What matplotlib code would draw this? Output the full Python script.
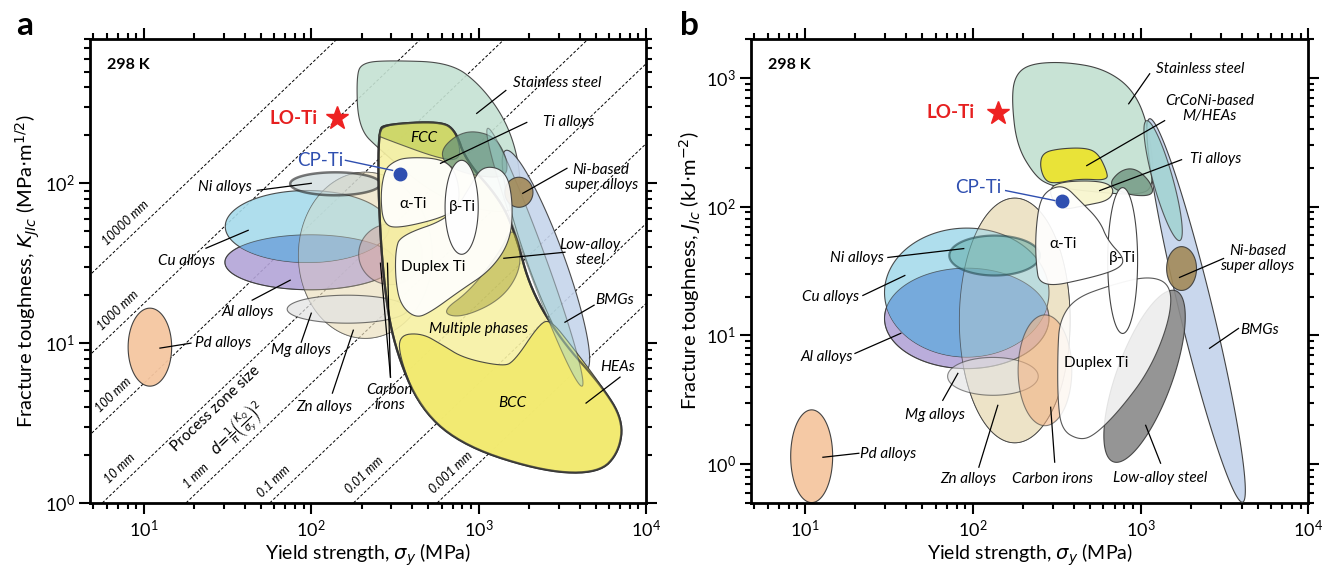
import numpy as np
import matplotlib
matplotlib.use('Agg')
import matplotlib.pyplot as plt

plt.rcParams['font.family'] = ['Lato', 'DejaVu Sans']
plt.rcParams['mathtext.fontset'] = 'dejavusans'

# all outlines in decades: (log10 sigma_y [MPa], log10 toughness)

# ---------------- panel a : K_JIc ----------------
# ellipses: centre x, centre y, half width, half height (decades)
pd_a = (1.036, 0.975, 0.13, 0.244)
cu_a = (1.976, 1.73, 0.49, 0.225)
al_a = (1.994, 1.506, 0.51, 0.172)
ni_a = (2.144, 1.997, 0.27, 0.072)
mg_a = (2.216, 1.2125, 0.36, 0.0875)
zn_a = (2.323, 1.55, 0.40, 0.52)
carbon_a = (2.473, 1.556, 0.19, 0.19)
beta_a = (2.898, 1.85, 0.099, 0.294)
nisuper_a = (3.240, 1.944, 0.084, 0.094)
# elongated bands: end 1, end 2, half width
bmg_a = ((3.162, 2.206), (3.641, 0.831), 0.11)
teal_a = ((3.054, 2.344), (3.617, 0.731), 0.06)

stainless_a = [(2.269, 2.675), (2.305, 2.756), (2.473, 2.769), (2.832, 2.756), (3.012, 2.613),
               (3.162, 2.394), (3.240, 2.144), (3.252, 1.894), (3.162, 1.8), (2.772, 1.894),
               (2.413, 2.206), (2.281, 2.344)]
hea_a = [(2.401, 2.331), (2.443, 2.369), (2.772, 2.388), (2.862, 2.331), (2.922, 2.144),
         (3.132, 1.894), (3.222, 1.675), (3.311, 1.331), (3.491, 1.019), (3.731, 0.738),
         (3.862, 0.519), (3.838, 0.319), (3.719, 0.188), (3.401, 0.194), (2.922, 0.35),
         (2.653, 0.581), (2.491, 0.988), (2.431, 1.394), (2.401, 1.894)]
bcc_a = [(2.521, 1.05), (2.659, 1.063), (2.784, 0.988), (2.910, 0.906), (3.138, 0.856),
         (3.210, 0.881), (3.365, 1.125), (3.431, 1.144), (3.551, 0.988), (3.731, 0.738),
         (3.862, 0.519), (3.838, 0.319), (3.719, 0.188), (3.401, 0.194), (2.922, 0.35),
         (2.653, 0.581), (2.533, 0.894)]
fcc_a = [(2.40, 2.30), (2.44, 2.37), (2.77, 2.39), (2.86, 2.33), (2.90, 2.16), (2.80, 2.14),
         (2.41, 2.29)]
lowalloy_a = [(2.772, 1.194), (2.952, 1.331), (3.132, 1.581), (3.192, 1.719), (3.24, 1.644),
              (3.252, 1.456), (3.132, 1.269), (2.892, 1.156)]
tialloy_a = [(2.772, 2.206), (2.862, 2.3), (2.97, 2.331), (3.102, 2.288), (3.174, 2.144),
             (3.162, 2.031), (2.952, 2.05), (2.802, 2.113)]
alpha_a = [(2.485, 2.131), (2.563, 2.163), (2.772, 2.156), (2.862, 2.081), (2.892, 1.894),
           (2.832, 1.8), (2.533, 1.719), (2.431, 1.738), (2.413, 1.925), (2.437, 2.081)]
duplex_a = [(2.533, 1.675), (2.832, 1.781), (2.952, 1.988), (3.024, 2.113), (3.162, 2.081),
            (3.204, 1.894), (3.192, 1.644), (3.072, 1.456), (2.892, 1.331), (2.713, 1.194),
            (2.623, 1.156), (2.533, 1.238), (2.503, 1.394), (2.503, 1.581)]

zone_mm = [10000, 1000, 100, 10, 1, 0.1, 0.01, 0.001]
zone_label_mpa = [7.8, 7.0, 6.6, 7.2, 20.5, 60, 208, 680]
zone_names = ['10000 mm', '1000 mm', '100 mm', '10 mm', '1 mm', '0.1 mm', '0.01 mm', '0.001 mm']

lo_ti_a = (143, 255)
cp_ti_a = (341, 115)

# text, position, leader start, leader end
labels_a = [
    ('Stainless steel', (3.467, 2.625), (3.162, 2.581), (2.988, 2.4375)),
    ('Ti alloys', (3.539, 2.381), (3.287, 2.381), (2.772, 2.125)),
    ('Ni-based\nsuper alloys', (3.731, 2.0375), (3.527, 2.094), (3.263, 1.9375)),
    ('Low-alloy\nsteel', (3.665, 1.569), (3.515, 1.569), (3.150, 1.531)),
    ('BMGs', (3.814, 1.269), (3.689, 1.2375), (3.515, 1.131)),
    ('HEAs', (3.832, 0.85), (3.844, 0.7875), (3.641, 0.625)),
    ('Ni alloys', (1.485, 1.975), (1.677, 1.956), (2.0, 2.0)),
    ('Cu alloys', (1.257, 1.5125), (1.371, 1.594), (1.623, 1.706)),
    ('Al alloys', (1.623, 1.194), (1.647, 1.269), (1.874, 1.394)),
    ('Mg alloys', (1.940, 0.956), (1.94, 1.006), (2.0, 1.1875)),
    ('Zn alloys', (2.078, 0.6), (2.126, 0.6875), (2.251, 1.081)),
    ('Carbon\nirons', (2.467, 0.6625), (2.473, 0.7875), (2.413, 1.5)),
    ('Pd alloys', (1.473, 1.0), (1.281, 1.0), (1.096, 0.969)),
]
extra_leaders_a = [((2.473, 0.7875), (2.455, 1.5))]
inner_a = [('BCC', (3.198, 0.625), True), ('Multiple phases', (3.0, 1.0875), True),
           ('FCC', (2.671, 2.281), True), ('α-Ti', (2.605, 1.869), False),
           ('β-Ti', (2.904, 1.85), False), ('Duplex Ti', (2.731, 1.475), False)]

# ---------------- panel b : J_Ic ----------------
pd_b = (1.04, 0.062, 0.125, 0.36)
cu_b = (1.964, 1.333, 0.49, 0.5)
al_b = (1.964, 1.132, 0.49, 0.39)
ni_b = (2.13, 1.62, 0.27, 0.155)
mg_b = (2.12, 0.682, 0.27, 0.147)
zn_b = (2.25, 1.116, 0.33, 0.95)
carbon_b = (2.43, 0.729, 0.16, 0.43)
beta_b = (2.893, 1.581, 0.089, 0.566)
nisuper_b = (3.244, 1.519, 0.089, 0.17)
bmg_b = ((3.054, 2.682), (3.607, -0.295), 0.10)
teal_b = ((3.036, 2.667), (3.232, 1.736), 0.06)
lowalloy_b = ((3.202, 1.349), (2.845, 0.016), 0.17)

stainless_b = [(2.25, 3.016), (2.339, 3.109), (2.548, 3.124), (2.786, 3.07), (2.964, 2.899),
               (3.054, 2.589), (3.083, 2.163), (2.994, 2.085), (2.637, 2.124), (2.458, 2.163),
               (2.369, 2.24), (2.262, 2.473), (2.232, 2.822)]
crconi_b = [(2.399, 2.318), (2.417, 2.419), (2.518, 2.45), (2.667, 2.457), (2.744, 2.419),
            (2.798, 2.279), (2.804, 2.202), (2.637, 2.217), (2.488, 2.178), (2.429, 2.202)]
tipale_b = [(2.446, 2.124), (2.518, 2.194), (2.756, 2.202), (2.845, 2.147), (2.815, 2.047),
            (2.667, 2.008), (2.518, 1.969)]
tidark_b = [(2.804, 2.163), (2.875, 2.279), (2.964, 2.302), (3.054, 2.202), (3.083, 2.085),
            (2.935, 2.085)]
duplex_b = [(2.518, 1.116), (2.607, 1.287), (2.815, 1.388), (3.054, 1.465), (3.185, 1.388),
            (3.173, 1.116), (3.054, 0.729), (2.875, 0.419), (2.726, 0.225), (2.637, 0.186),
            (2.530, 0.264), (2.506, 0.496), (2.506, 0.884)]
alpha_b = [(2.399, 2.047), (2.458, 2.14), (2.548, 2.163), (2.637, 2.047), (2.756, 1.891),
           (2.804, 1.736), (2.905, 1.597), (2.875, 1.519), (2.714, 1.45), (2.399, 1.364),
           (2.375, 1.581), (2.375, 1.814)]

lo_ti_b = (141, 535)
cp_ti_b = (339, 111)

labels_b = [
    ('Stainless steel', (3.357, 3.07), (3.054, 3.031), (2.929, 2.798)),
    ('CrCoNi-based\nM/HEAs', (3.411, 2.76), (3.143, 2.667), (2.679, 2.318)),
    ('Ti alloys', (3.446, 2.372), (3.244, 2.364), (2.756, 2.124)),
    ('Ni-based\nsuper alloys', (3.696, 1.597), (3.494, 1.597), (3.232, 1.45)),
    ('Ni alloys', (1.31, 1.597), (1.494, 1.605), (1.946, 1.674)),
    ('Cu alloys', (1.155, 1.295), (1.345, 1.31), (1.595, 1.465)),
    ('Al alloys', (1.131, 0.829), (1.298, 0.86), (1.571, 1.016)),
    ('Mg alloys', (1.774, 0.38), (1.821, 0.496), (1.911, 0.705)),
    ('Zn alloys', (1.976, -0.116), (2.036, -0.023), (2.149, 0.457)),
    ('Carbon irons', (2.476, -0.116), (2.488, 0.016), (2.464, 0.442)),
    ('Low-alloy steel', (3.119, -0.109), (3.119, 0.008), (3.030, 0.302)),
    ('BMGs', (3.708, 1.039), (3.583, 1.054), (3.411, 0.9)),
    ('Pd alloys', (1.494, 0.078), (1.321, 0.085), (1.107, 0.054)),
]
inner_b = [('α-Ti', (2.536, 1.713), False), ('β-Ti', (2.893, 1.597), False),
           ('Duplex Ti', (2.738, 0.783), False)]

EDGE = '#3a3a3a'


def chaikin(pts, it=4):
    p = np.array(pts, float)
    for _ in range(it):
        q = np.roll(p, -1, axis=0)
        new = np.empty((2 * len(p), 2))
        new[0::2] = 0.75 * p + 0.25 * q
        new[1::2] = 0.25 * p + 0.75 * q
        p = new
    return p


def ellipse(e):
    cx, cy, hw, hh = e
    t = np.linspace(0, 2 * np.pi, 160)
    return np.column_stack([cx + hw * np.cos(t), cy + hh * np.sin(t)])


def band(b):
    (x0, y0), (x1, y1), hw = b
    c = np.array([(x0 + x1) / 2, (y0 + y1) / 2])
    d = np.array([x1 - x0, y1 - y0])
    L = np.hypot(*d)
    u = d / L
    v = np.array([-u[1], u[0]])
    t = np.linspace(0, 2 * np.pi, 160)
    return c + np.outer(L / 2 * np.cos(t), u) + np.outer(hw * np.sin(t), v)


def draw(ax, pts, fc, alpha=0.75, ec=EDGE, lw=0.8, z=2):
    pts = np.asarray(pts)
    return ax.fill(10 ** pts[:, 0], 10 ** pts[:, 1], fc=fc, alpha=alpha, ec=ec, lw=lw, zorder=z)[0]


def outline_only(ax, pts, lw=0.6, z=2):
    pts = np.asarray(pts)
    ax.fill(10 ** pts[:, 0], 10 ** pts[:, 1], fc='none', ec=EDGE, lw=lw, zorder=z, alpha=0.7)


def P(p):
    return 10 ** p[0], 10 ** p[1]


def add_labels(ax, labels, inner):
    for txt, pos, l0, l1 in labels:
        ax.plot([10 ** l0[0], 10 ** l1[0]], [10 ** l0[1], 10 ** l1[1]], color='k', lw=0.9, zorder=20)
        ax.text(*P(pos), txt, ha='center', va='center', style='italic', fontsize=11,
                linespacing=1.1, zorder=21)
    for txt, pos, it in inner:
        ax.text(*P(pos), txt, ha='center', va='center', style='italic' if it else 'normal',
                fontsize=11, zorder=21)


def style_axis(ax, ylim):
    ax.set_xscale('log')
    ax.set_yscale('log')
    ax.set_xlim(4.8, 1e4)
    ax.set_ylim(*ylim)
    for s in ax.spines.values():
        s.set_linewidth(2)
    ax.tick_params(which='both', direction='out', top=True, right=True, width=1.5, labelsize=13)
    ax.tick_params(which='major', length=8)
    ax.tick_params(which='minor', length=4.5)
    ax.set_xlabel(r'Yield strength, $\sigma_y$ (MPa)', fontsize=14, labelpad=1)
    ax.text(0.03, 0.96, '298 K', transform=ax.transAxes, fontsize=11.5, weight='bold', va='top')


fig = plt.figure(figsize=(13.23, 5.69), dpi=100)
axa = fig.add_axes([0.0684, 0.116, 0.42, 0.8155])
axb = fig.add_axes([0.568, 0.116, 0.421, 0.8155])
style_axis(axa, (1, 800))
style_axis(axb, (0.5, 2000))
axa.set_ylabel(r'Fracture toughness, $K_{JIc}$ (MPa$\cdot$m$^{1/2}$)', fontsize=14.5, labelpad=2)
axb.set_ylabel(r'Fracture toughness, $J_{Ic}$ (kJ$\cdot$m$^{-2}$)', fontsize=14.5, labelpad=2)

# ---- panel a
sig = np.logspace(0.5, 4.2, 50)
fig.canvas.draw()
p0 = axa.transData.transform((10, 1))
p1 = axa.transData.transform((100, 10))
ang = np.degrees(np.arctan2(p1[1] - p0[1], p1[0] - p0[0]))
for d, sx, name in zip(zone_mm, zone_label_mpa, zone_names):
    k = np.sqrt(np.pi * d / 1000.0)
    axa.plot(sig, sig * k, ls=(0, (3, 2)), color='k', lw=0.7, zorder=1)
    axa.text(sx, sx * k * 10 ** 0.11, name, rotation=ang, ha='center', va='center',
             style='italic', fontsize=9, zorder=1)
axa.text(*P((1.43, 0.59)), 'Process zone size', rotation=ang, ha='center', va='center',
         fontsize=11, zorder=1)
axa.text(*P((1.56, 0.46)), r'$d\!=\!\frac{1}{\pi}\left(\frac{K_Q}{\sigma_y}\right)^2$', rotation=ang,
         ha='center', va='center', fontsize=10.5, zorder=1)

draw(axa, ellipse(pd_a), '#f5c6a0', 0.95)
draw(axa, ellipse(zn_a), '#ece0bf', 0.55, lw=0.6)
al_p = draw(axa, ellipse(al_a), '#b3a4d8', 0.9)
cu_p = draw(axa, ellipse(cu_a), '#a6dbeb', 0.9)
ov = draw(axa, ellipse(al_a), '#74a8dc', 0.9, ec='none')
ov.set_clip_path(cu_p)
outline_only(axa, ellipse(al_a))
outline_only(axa, ellipse(zn_a), z=3)
draw(axa, ellipse(zn_a), '#ece0bf', 0.3, ec='none', z=3)
draw(axa, ellipse(mg_a), '#e2e2e2', 0.7, z=4)
draw(axa, ellipse(ni_a), '#c4d2d5', 0.6, lw=1.8, ec='#202020', z=4)
draw(axa, ellipse(carbon_a), '#d8a9a2', 0.55, z=4)
draw(axa, chaikin(stainless_a), '#c5e2d3', 0.9, z=5)
draw(axa, band(bmg_a), '#c6d5ec', 0.9, z=5)
draw(axa, chaikin(hea_a, 3), '#f7f1a3', 0.9, lw=1.6, ec='#111111', z=6)
draw(axa, chaikin(bcc_a, 3), '#f2ea6c', 0.9, lw=0.8, z=6)
draw(axa, chaikin(fcc_a, 3), '#c3cf55', 0.75, z=7)
outline_only(axa, chaikin(hea_a, 3), lw=1.6, z=7)
draw(axa, chaikin(lowalloy_a), '#aeaa40', 0.55, z=7)
draw(axa, chaikin(tialloy_a), '#5f8e79', 0.7, z=7)
draw(axa, band(teal_a), '#9fd2cf', 0.45, z=7)
draw(axa, ellipse(nisuper_a), '#a38a58', 0.9, z=8)
draw(axa, chaikin(duplex_a), 'white', 0.9, z=9)
draw(axa, chaikin(alpha_a), 'white', 0.9, z=10)
draw(axa, ellipse(beta_a), 'white', 0.95, z=10)

axa.plot(*lo_ti_a, marker='*', ms=17, color='#ee2222', mec='#ee2222', zorder=22)
axa.text(*P((2.04, 2.406)), 'LO-Ti', color='#e62020', fontsize=13.5, weight='bold', ha='right',
         va='center', zorder=22)
axa.plot(*cp_ti_a, 'o', ms=9, color='#2f4fb0', zorder=22)
axa.plot([10 ** 2.204, 10 ** 2.485], [10 ** 2.144, 10 ** 2.081], color='#2f4fb0', lw=1, zorder=22)
axa.text(*P((2.19, 2.144)), 'CP-Ti', color='#2f4fb0', fontsize=13.5, ha='right', va='center', zorder=22)
add_labels(axa, labels_a, inner_a)
for l0, l1 in extra_leaders_a:
    axa.plot([10 ** l0[0], 10 ** l1[0]], [10 ** l0[1], 10 ** l1[1]], color='k', lw=0.9, zorder=20)

# ---- panel b
draw(axb, ellipse(pd_b), '#f5c6a0', 0.95)
draw(axb, ellipse(zn_b), '#ede2c3', 0.9, lw=0.6)
al_p = draw(axb, ellipse(al_b), '#b3a4d8', 0.9)
cu_p = draw(axb, ellipse(cu_b), '#a6dbeb', 0.9)
ov = draw(axb, ellipse(al_b), '#74a8dc', 0.95, ec='none')
ov.set_clip_path(cu_p)
outline_only(axb, ellipse(al_b))
draw(axb, ellipse(zn_b), '#ede2c3', 0.25, ec='none', z=3)
outline_only(axb, ellipse(zn_b), z=3)
draw(axb, ellipse(ni_b), '#5faaa7', 0.55, lw=1.6, ec='#1d3f45', z=4)
draw(axb, ellipse(mg_b), '#e2e2e2', 0.6, z=4)
draw(axb, ellipse(carbon_b), '#f2b485', 0.6, z=4)
draw(axb, chaikin(stainless_b), '#c5e2d3', 0.95, z=5)
draw(axb, band(bmg_b), '#c6d5ec', 0.95, z=5)
draw(axb, band(teal_b), '#9fd2cf', 0.8, z=5)
draw(axb, chaikin(tidark_b), '#7a9f8a', 0.9, z=6)
draw(axb, chaikin(crconi_b), '#ebe430', 0.95, z=6)
draw(axb, chaikin(tipale_b), '#f8f6cf', 0.95, z=7)
draw(axb, ellipse(nisuper_b), '#a38a58', 0.9, z=7)
draw(axb, band(lowalloy_b), '#8a8a8a', 0.9, z=7)
draw(axb, chaikin(duplex_b), 'white', 0.85, z=8)
draw(axb, ellipse(beta_b), 'white', 0.95, z=9)
draw(axb, chaikin(alpha_b), 'white', 0.92, z=9)

axb.plot(*lo_ti_b, marker='*', ms=17, color='#ee2222', mec='#ee2222', zorder=22)
axb.text(*P((2.012, 2.729)), 'LO-Ti', color='#e62020', fontsize=13.5, weight='bold', ha='right',
         va='center', zorder=22)
axb.plot(*cp_ti_b, 'o', ms=9, color='#2f4fb0', zorder=22)
axb.plot([10 ** 2.196, 10 ** 2.488], [10 ** 2.124, 10 ** 2.047], color='#2f4fb0', lw=1, zorder=22)
axb.text(*P((2.173, 2.147)), 'CP-Ti', color='#2f4fb0', fontsize=13.5, ha='right', va='center', zorder=22)
add_labels(axb, labels_b, inner_b)

fig.text(0.012, 0.955, 'a', fontsize=24, weight='bold', va='center')
fig.text(0.514, 0.955, 'b', fontsize=24, weight='bold', va='center')

fig.savefig('out.png', dpi=100)
